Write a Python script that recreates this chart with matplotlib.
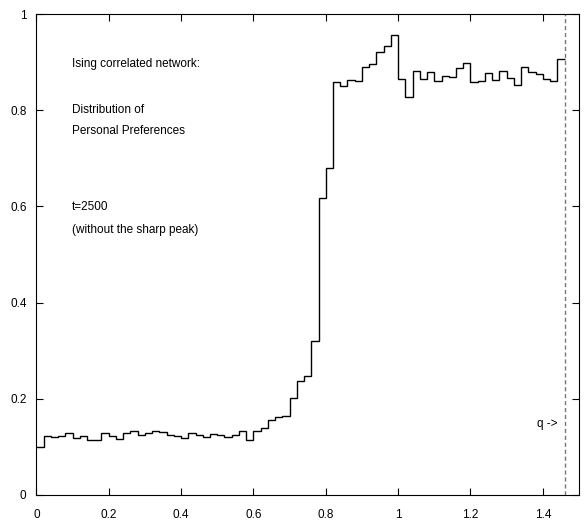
import numpy as np
from matplotlib import pyplot as plt

plt.rcParams['font.family'] = ['Liberation Sans', 'DejaVu Sans']

# histogram of personal preferences, bins of width 0.02 starting at 0
bin_width = 0.02
bin_start = 0.0
hist = [0.100, 0.123, 0.121, 0.123, 0.128, 0.119, 0.122, 0.114, 0.115, 0.128,
        0.123, 0.116, 0.128, 0.134, 0.124, 0.128, 0.134, 0.130, 0.124, 0.123,
        0.119, 0.128, 0.125, 0.121, 0.126, 0.124, 0.121, 0.125, 0.133, 0.115,
        0.134, 0.140, 0.156, 0.163, 0.165, 0.202, 0.237, 0.247, 0.320, 0.617,
        0.679, 0.859, 0.850, 0.862, 0.861, 0.890, 0.896, 0.920, 0.933, 0.957,
        0.864, 0.828, 0.882, 0.864, 0.880, 0.861, 0.872, 0.870, 0.887, 0.899,
        0.858, 0.861, 0.877, 0.863, 0.882, 0.867, 0.852, 0.889, 0.880, 0.875,
        0.865, 0.861, 0.906]
q_value = 1.46

xticks = [0, 0.2, 0.4, 0.6, 0.8, 1.0, 1.2, 1.4]
xtick_labels = ['0', '0.2', '0.4', '0.6', '0.8', '1', '1.2', '1.4']
yticks = [0, 0.2, 0.4, 0.6, 0.8, 1.0]
ytick_labels = ['0', '0.2', '0.4', '0.6', '0.8', '1']

notes = ["Ising correlated network:", "Distribution of", "Personal Preferences",
         "t=2500", "(without the sharp peak)"]
notes_y = [0.896, 0.800, 0.757, 0.599, 0.551]

edges = bin_start + bin_width * np.arange(len(hist) + 1)

fig = plt.figure(figsize=(5.84, 5.29), dpi=100)
ax = fig.add_axes([0.0622, 0.0643, 0.9292, 0.9092])

ax.stairs(hist, edges, baseline=None, color='black', linewidth=1.0)
ax.axvline(q_value, color='#777777', linestyle=(0, (3, 2)), linewidth=1.0)
ax.text(q_value - 0.018, 0.148, "q ->", ha='right', va='center', fontsize=8.5)

for s, y in zip(notes, notes_y):
    ax.text(0.099, y, s, ha='left', va='center', fontsize=8.5)

ax.set_xlim(0, 1.5)
ax.set_ylim(0, 1)
ax.set_xticks(xticks)
ax.set_xticklabels(xtick_labels)
ax.set_yticks(yticks)
ax.set_yticklabels(ytick_labels)
ax.tick_params(direction='in', length=5, width=0.8, top=True, right=True,
               labelsize=8.5)
ax.tick_params(axis='x', pad=10)
ax.tick_params(axis='y', pad=7)
for sp in ax.spines.values():
    sp.set_linewidth(0.8)

plt.savefig('out.png', dpi=100)
